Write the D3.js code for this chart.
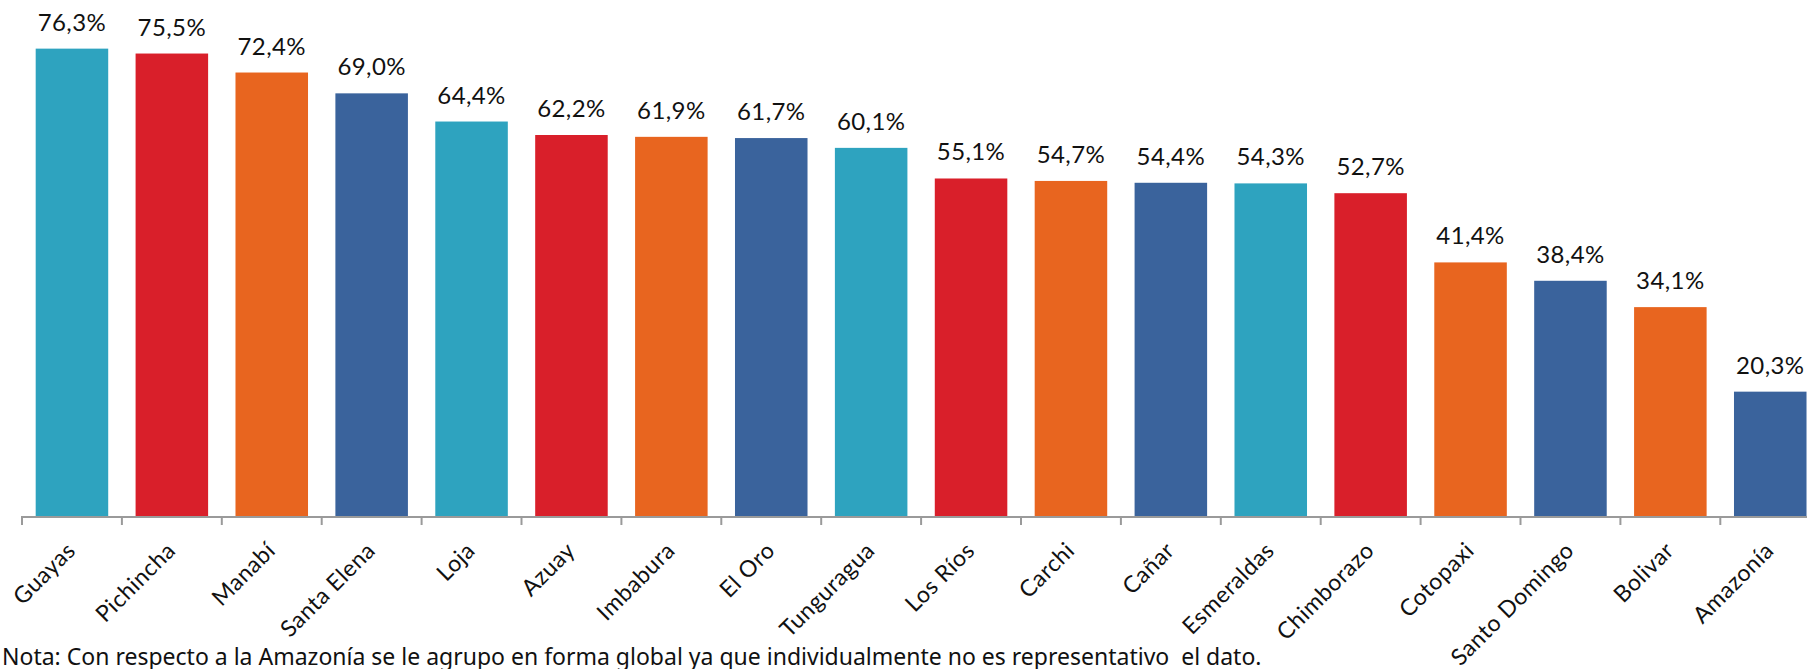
<!DOCTYPE html>
<html>
<head>
<meta charset="utf-8">
<script src="https://cdn.jsdelivr.net/npm/d3@7"></script>
<style>
    body { margin: 0; background: #fff; }
    svg { display: block; }
</style>
</head>
<body>
<svg id="chart"></svg>
<script>
    // data
    var provinces = ["Guayas", "Pichincha", "Manabí", "Santa Elena", "Loja", "Azuay", "Imbabura", "El Oro",
        "Tunguragua", "Los Ríos", "Carchi", "Cañar", "Esmeraldas", "Chimborazo", "Cotopaxi",
        "Santo Domingo", "Bolivar", "Amazonía"];
    var values = [76.3, 75.5, 72.4, 69.0, 64.4, 62.2, 61.9, 61.7, 60.1, 55.1, 54.7, 54.4, 54.3, 52.7,
        41.4, 38.4, 34.1, 20.3];
    var barColors = ["teal", "red", "orange", "blue", "teal", "red", "orange", "blue", "teal", "red",
        "orange", "blue", "teal", "red", "orange", "blue", "orange", "blue"];
    var note = "Nota: Con respecto a la Amazonía se le agrupo en forma global ya que individualmente no es representativo  el dato.";

    var palette = {teal: "#2ea3bf", red: "#d91f2a", orange: "#e8651f", blue: "#3a639c"};

    var vWidth = 1807, vHeight = 669;
    var svg = d3.select("#chart").attr("width", vWidth).attr("height", vHeight);

    var baseY = 516;
    var x = d3.scaleBand().domain(provinces).range([22, 22 + 18 * 99.9]).paddingInner(0.274).paddingOuter(0.137);
    var y = d3.scaleLinear().domain([0, 84.24]).range([baseY, 0]);

    var fmt = function (v) { return d3.format(".1f")(v).replace(".", ",") + "%"; };

    var data = provinces.map(function (p, i) {
        return {name: p, value: values[i], color: palette[barColors[i]]};
    });

    svg.append("g").selectAll("rect").data(data).enter().append("rect")
        .attr("x", d => x(d.name))
        .attr("y", d => y(d.value))
        .attr("width", x.bandwidth())
        .attr("height", d => y(0) - y(d.value))
        .attr("fill", d => d.color);

    // value labels
    svg.append("g").selectAll("text").data(data).enter().append("text")
        .attr("x", d => x(d.name) + x.bandwidth() / 2)
        .attr("y", d => y(d.value) - 18)
        .attr("text-anchor", "middle")
        .attr("font-family", "Lato, sans-serif")
        .attr("font-size", 24)
        .attr("letter-spacing", 0.4)
        .attr("fill", "#111")
        .text(d => fmt(d.value));

    // axis: line plus ticks at the band edges
    var axis = svg.append("g").attr("stroke", "#9a9a9a").attr("stroke-width", 2);
    axis.append("line").attr("x1", 21).attr("x2", vWidth).attr("y1", baseY + 1).attr("y2", baseY + 1);
    var step = x.step();
    axis.selectAll("line.tick").data(d3.range(provinces.length + 1)).enter().append("line")
        .attr("class", "tick")
        .attr("x1", i => 22 + i * step).attr("x2", i => 22 + i * step)
        .attr("y1", baseY + 1).attr("y2", baseY + 9);

    // rotated category labels
    svg.append("g").selectAll("text").data(data).enter().append("text")
        .attr("transform", d => "translate(" + (x(d.name) + x.bandwidth() / 2 + 5) + "," + (baseY + 36) + ") rotate(-45)")
        .attr("text-anchor", "end")
        .attr("font-family", "Lato, sans-serif")
        .attr("font-size", 23)
        .attr("letter-spacing", 0.5)
        .attr("fill", "#111")
        .text(d => d.name);

    svg.append("text")
        .attr("x", 2).attr("y", 665)
        .attr("font-family", "'Noto Sans', sans-serif")
        .attr("font-size", 23)
        .attr("fill", "#111")
        .style("white-space", "pre")
        .text(note);
</script>
</body>
</html>
